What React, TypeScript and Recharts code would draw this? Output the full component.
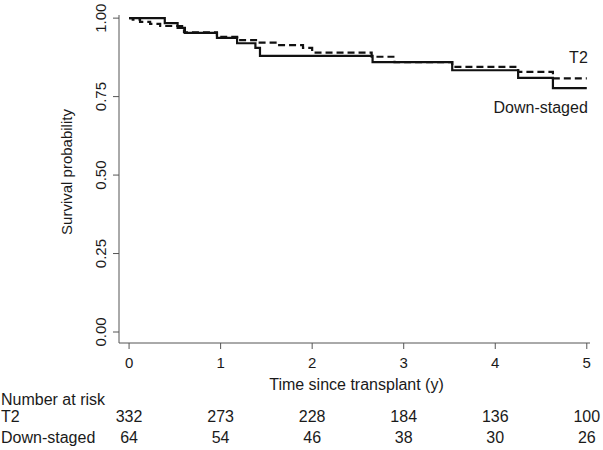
import { LineChart, Line, XAxis, YAxis, LabelList } from 'recharts';

// number at risk table
const riskTimes = [0, 1, 2, 3, 4, 5];
const riskT2 = [332, 273, 228, 184, 136, 100];
const riskDown = [64, 54, 46, 38, 30, 26];

// Kaplan-Meier steps
const t2Times = [0, 0.04, 0.12, 0.23, 0.34, 0.6, 0.96, 1.2, 1.4, 1.6, 1.9, 2.0, 2.65, 2.9, 3.53, 4.25, 4.63, 5.0];
const t2Surv = [1.0, 0.995, 0.988, 0.982, 0.975, 0.955, 0.94, 0.93, 0.922, 0.914, 0.905, 0.89, 0.877, 0.86, 0.845, 0.829, 0.808, 0.808];

const downTimes = [0, 0.39, 0.53, 0.61, 0.96, 1.18, 1.38, 1.43, 2.66, 3.53, 4.25, 4.63, 5.0];
const downSurv = [1.0, 0.984, 0.969, 0.953, 0.937, 0.92, 0.905, 0.88, 0.86, 0.834, 0.81, 0.777, 0.777];

const yTicks = [0, 0.25, 0.5, 0.75, 1];
const xDomain = [-0.11, 5.035];

const t2Data = t2Times.map((t, i) => ({ t, s: t2Surv[i] }));
const downData = downTimes.map((t, i) => ({ t, s: downSurv[i] }));

const FONT = '"Liberation Sans", Arial, sans-serif';
const TXT = '#1a1a1a';
const AXIS = '#555';

function YTick({ x, y, payload }: any) {
  return (
    <text transform={`translate(${x - 5},${y}) rotate(-90)`} textAnchor="middle" fontSize={15} fill={TXT}>
      {Number(payload.value).toFixed(2)}
    </text>
  );
}

function endLabel(text: string, dy: number, last: number) {
  return (p: any) => {
    if (p.index !== last) return null;
    return (
      <text x={p.x + 1} y={p.y + dy} textAnchor="end" fontSize={16} fill={TXT}>
        {text}
      </text>
    );
  };
}

export default function App() {
  return (
    <div style={{ position: 'absolute', left: 0, top: 0, background: '#fff' }}>
      <LineChart
        width={603}
        height={450}
        margin={{ top: 15, right: 13, left: 0, bottom: 13 }}
        style={{ fontFamily: FONT }}
      >
        <XAxis
          xAxisId="main"
          type="number"
          dataKey="t"
          domain={xDomain}
          allowDataOverflow
          ticks={riskTimes}
          interval={0}
          height={52}
          tickSize={6}
          tickMargin={8}
          stroke={AXIS}
          tick={{ fontSize: 15, fill: TXT }}
          label={{
            content: ({ viewBox }: any) => (
              <g>
                <text x={viewBox.x + viewBox.width / 2 + 2} y={viewBox.y + 47} textAnchor="middle" fontSize={16} fill={TXT}>
                  Time since transplant (y)
                </text>
                <text x={1} y={viewBox.y + 62} fontSize={16} fill={TXT}>
                  Number at risk
                </text>
              </g>
            ),
          }}
        />
        <XAxis
          xAxisId="r1"
          type="number"
          dataKey="t"
          domain={xDomain}
          allowDataOverflow
          ticks={riskTimes}
          interval={0}
          height={21}
          axisLine={false}
          tickLine={false}
          tickSize={0}
          tickMargin={16}
          tick={{ fontSize: 16, fill: TXT }}
          tickFormatter={(v: number, i: number) => String(riskT2[i])}
          label={{
            content: ({ viewBox }: any) => (
              <text x={1} y={viewBox.y + 27.4} fontSize={16} fill={TXT}>T2</text>
            ),
          }}
        />
        <XAxis
          xAxisId="r2"
          type="number"
          dataKey="t"
          domain={xDomain}
          allowDataOverflow
          ticks={riskTimes}
          interval={0}
          height={21}
          axisLine={false}
          tickLine={false}
          tickSize={0}
          tickMargin={16}
          tick={{ fontSize: 16, fill: TXT }}
          tickFormatter={(v: number, i: number) => String(riskDown[i])}
          label={{
            content: ({ viewBox }: any) => (
              <text x={1} y={viewBox.y + 27.4} fontSize={16} fill={TXT}>Down-staged</text>
            ),
          }}
        />
        <YAxis
          type="number"
          domain={[-0.035, 1.01]}
          allowDataOverflow
          ticks={yTicks}
          interval={0}
          width={119}
          tickSize={6}
          stroke={AXIS}
          tick={<YTick />}
          label={{
            content: ({ viewBox }: any) => (
              <text
                transform={`translate(72,${viewBox.y + viewBox.height / 2 - 7}) rotate(-90)`}
                textAnchor="middle"
                fontSize={15}
                fill={TXT}
              >
                Survival probability
              </text>
            ),
          }}
        />
        <Line
          xAxisId="main"
          data={t2Data}
          dataKey="s"
          type="stepAfter"
          stroke="#111"
          strokeWidth={2.2}
          strokeDasharray="7 4"
          dot={false}
          activeDot={false}
          isAnimationActive={false}
        >
          <LabelList dataKey="s" content={endLabel('T2', -15.5, t2Data.length - 1)} />
        </Line>
        <Line
          xAxisId="main"
          data={downData}
          dataKey="s"
          type="stepAfter"
          stroke="#111"
          strokeWidth={2.2}
          dot={false}
          activeDot={false}
          isAnimationActive={false}
        >
          <LabelList dataKey="s" content={endLabel('Down-staged', 24.5, downData.length - 1)} />
        </Line>
      </LineChart>
    </div>
  );
}
